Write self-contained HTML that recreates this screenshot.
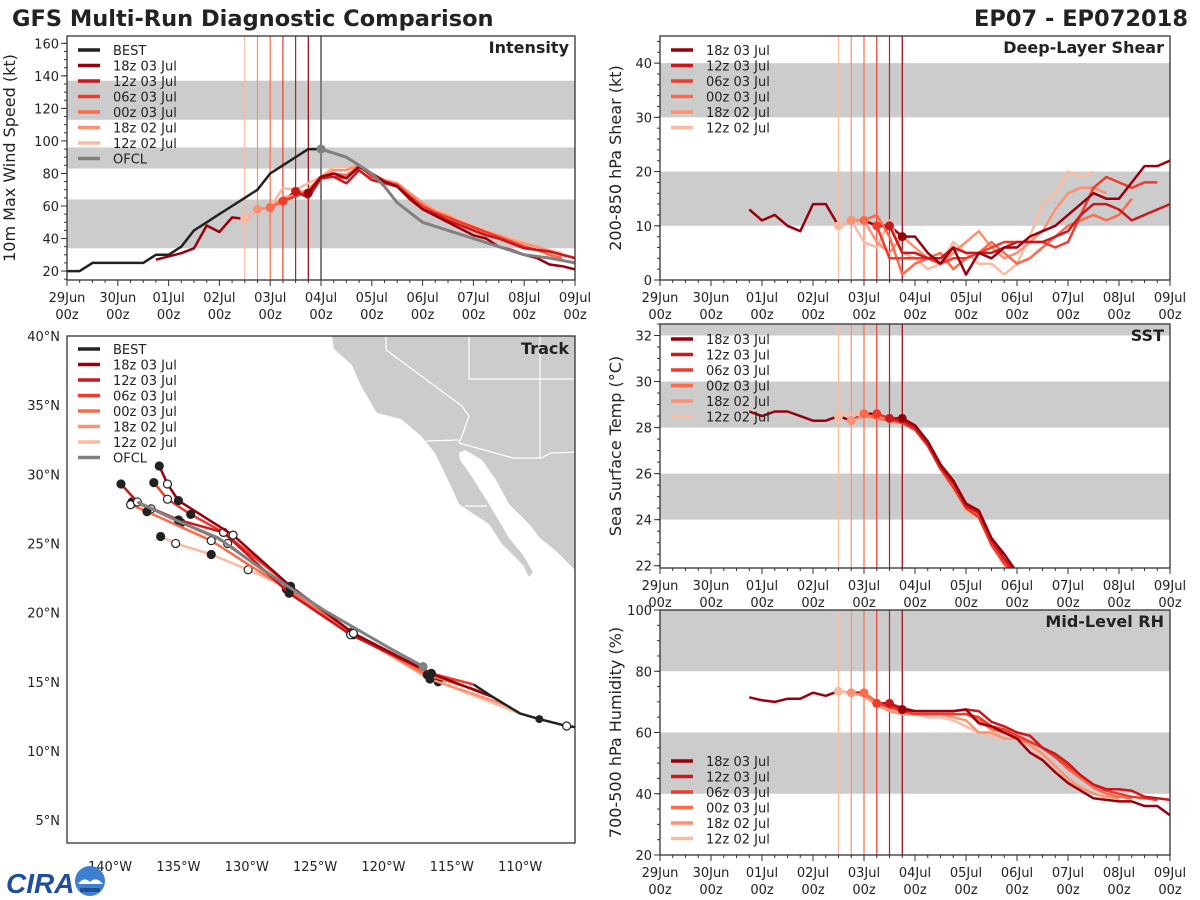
<!DOCTYPE html>
<html><head><meta charset="utf-8"><style>
html,body{margin:0;padding:0;background:#fff;}
svg{display:block;font-family:"DejaVu Sans","Liberation Sans",sans-serif;}
</style></head><body>
<svg id="fig" width="1200" height="900" viewBox="0 0 1200 900" xmlns="http://www.w3.org/2000/svg">
<rect x="0" y="0" width="1200" height="900" fill="#fff"/>
<text x="12" y="26" font-size="22.5" font-weight="bold" fill="#222">GFS Multi-Run Diagnostic Comparison</text>
<text x="1188" y="26" font-size="22.5" font-weight="bold" fill="#222" text-anchor="end">EP07 - EP072018</text>
<g id="panels"></g>
<g>
<text x="6" y="893" font-size="28" font-weight="bold" font-style="italic" fill="#1f4e9a" font-family="Liberation Sans, sans-serif">CIRA</text>
<circle cx="90" cy="881" r="15" fill="#3f7fd0"/>
<path d="M78 884 Q84 876 90 882 Q96 876 103 884 Z" fill="#fff"/>
<rect x="80" y="888" width="20" height="4" fill="#1f4e9a"/>
</g>
</svg>
<script>
const days=['29Jun','30Jun','01Jul','02Jul','03Jul','04Jul','05Jul','06Jul','07Jul','08Jul','09Jul'];
const runNames=['18z 03 Jul','12z 03 Jul','06z 03 Jul','00z 03 Jul','18z 02 Jul','12z 02 Jul'];
const runInit=[4.75,4.5,4.25,4.0,3.75,3.5];
const runColors=['#99000d','#cb181d','#ef3b2c','#fb6a4a','#fc9272','#fcbba1'];

// Intensity (kt)
const bestT0=0;
const bestVmax=[20,20,25,25,25,25,25,30,30,35,45,50,55,60,65,70,80,85,90,95,95];
const ofclT0=5.0;
const ofclVmax=[95,90,85,80,72,62,50,45,40,35,30,28,25];
const ofclStep=[0,0.5,0.75,1.0,1.25,1.5,2.0,2.5,3.0,3.5,4.0,4.5,5.0];
const intHistT0=1.75;
const intHist=[27,29,31,34,48,44,53,52,58,59,63,69,68];
const int18z03=[68,78,80,77,84,80,75,72,65,58,54,50,46,42,40,35,33,30,28,24,23,21];
const int12z03=[69,65,77,78,74,82,76,74,72,64,58,55,51,48,45,42,40,37,34,33,32,30,28,27];
const int06z03=[63,66,69,78,78,77,85,78,75,73,66,60,56,53,50,47,44,41,38,35,33,32,30,28,27];
const int00z03=[59,63,66,69,77,80,79,84,79,75,72,66,59,56,52,49,46,43,40,38,35,33,30,28];
const int18z02=[58,59,65,67,70,78,82,82,85,80,76,74,68,62,57,54,50,47,44,42,39,37,35,32,30,28];
const int12z02=[52,58,59,71,70,74,78,84,84,85,78,76,73,67,62,58,55,51,48,45,42,40,38,35,33,31];

// Shear (kt)
const shrHistT0=1.75;
const shrHist=[13,11,12,10,9,14,14,10,11,11,10,10,8];
const shr18z03=[8,8,5,3,6,1,5,4,6,6,8,9,10,12,14,16,15,15,18,21,21,22];
const shr12z03=[10,5,5,4,4,6,5,5,5,6,7,7,7,8,9,12,14,14,13,11,12,13,14,12];
const shr06z03=[10,4,4,4,4,3,4,4,5,6,7,7,7,7,6,7,12,17,19,18,17,18,18];
const shr00z03=[11,12,8,1,3,4,5,2,4,5,7,5,3,4,6,8,10,11,12,11,12,15];
const shr18z02=[11,11,7,5,8,6,4,3,5,7,9,6,4,5,7,9,13,16,17,17,16];
const shr12z02=[10,11,7,6,11,5,4,2,3,7,5,3,3,1,3,8,14,16,20,19,20];

// SST (C)
const sstHistT0=1.75;
const sstHist=[28.7,28.5,28.7,28.7,28.5,28.3,28.3,28.5,28.3,28.6,28.6,28.4,28.4];
const sst18z03=[28.4,28.1,27.4,26.4,25.7,24.7,24.4,23.2,22.5,21.7];
const sst12z03=[28.4,28.3,28.0,27.3,26.3,25.6,24.6,24.3,23.1,22.3,21.6];
const sst06z03=[28.6,28.4,28.2,27.9,27.2,26.2,25.4,24.5,24.1,22.9,22.1,21.5];
const sst00z03=[28.6,28.4,28.3,28.2,28.0,27.3,26.3,25.5,24.5,24.2,23.0,22.1,21.5];
const sst18z02=[28.3,28.5,28.4,28.3,28.2,28.0,27.4,26.3,25.5,24.5,24.2,23.0,22.2,21.5];
const sst12z02=[28.5,28.6,28.5,28.4,28.3,28.2,28.0,27.3,26.2,25.4,24.4,24.1,22.9,22.0,21.5];

// RH (%)
const rhHistT0=1.75;
const rhHist=[71.5,70.5,70,71,71,73,72,73.5,73,73,69.5,69.5,67.5];
const rh18z03=[67.5,67,67,67,67,67.5,63,62,60,58,53.5,51,47,43.5,41,38.5,38,37.5,37.5,36,36,33];
const rh12z03=[69.5,68,67,67,67,67,67.5,67,63.5,62,60,59,55,53,50,46,43,41.5,41.5,41,39,38.5,38];
const rh06z03=[69.5,68.5,67,66,66,66,66,66,65,62,61,59,57,55,52,49,46,43,41,40,39,38.5,38];
const rh00z03=[73,70,68,67,66,66,66,66,66,64,61,60,58,57,55,52,48,45,42,40,39,38.5];
const rh18z02=[73,72,69,67,66,66,66,66,65,64,60,60,58,58,56,53,49,45,42,40,39,38.5];
const rh12z02=[73.5,73,72,69,67,66,66,65,65,64,62,60,59,58,58,56,51,47,44,42,40,39];

// Track (lon, lat)
const bestLon=[-105.8,-106.6,-108.6,-110.0,-112.0,-113.4];
const bestLat=[11.7,11.8,12.3,12.7,13.9,14.8];
const ofclLon=[-117.1,-119.5,-124.4,-127.0,-129.7,-132.1,-135.0,-138.0];
const ofclLat=[16.1,17.4,20.2,21.9,23.7,25.4,26.6,28.0];
const trk18z03Lon=[-112.0,-116.5,-122.2,-126.8,-131.0,-135.0,-135.8,-136.4];
const trk18z03Lat=[13.9,15.6,18.5,21.9,25.6,28.1,29.3,30.6];
const trk12z03Lon=[-112.0,-116.5,-122.4,-126.9,-131.7,-135.0,-138.0,-139.2];
const trk12z03Lat=[13.9,15.6,18.4,21.4,25.8,26.7,28.0,29.3];
const trk06z03Lon=[-113.4,-116.5,-122.2,-126.8,-131.7,-134.1,-135.8,-136.8];
const trk06z03Lat=[14.8,15.6,18.5,21.9,25.8,27.1,28.2,29.4];
const trk00z03Lon=[-112.5,-116.8,-122.4,-126.9,-132.6,-137.3,-138.5];
const trk00z03Lat=[14.2,15.5,18.5,21.6,25.2,27.3,27.8];
const trk18z02Lon=[-111.0,-116.6,-122.3,-127.1,-131.4,-134.8,-137.0,-138.4];
const trk18z02Lat=[13.3,15.2,18.6,21.7,25.0,26.5,27.5,28.0];
const trk12z02Lon=[-110.0,-116.0,-122.2,-127.0,-129.9,-132.6,-135.2,-136.3];
const trk12z02Lat=[12.7,15.0,18.4,21.8,23.1,24.2,25.0,25.5];

const NS='http://www.w3.org/2000/svg';
const root=document.getElementById('panels');
function el(tag,attrs,parent){const e=document.createElementNS(NS,tag);for(const k in attrs)e.setAttribute(k,attrs[k]);(parent||root).appendChild(e);return e;}
function txt(s,attrs,parent){const e=el('text',attrs,parent);e.textContent=s;return e;}

const intRuns=[int18z03,int12z03,int06z03,int00z03,int18z02,int12z02];
const shrRuns=[shr18z03,shr12z03,shr06z03,shr00z03,shr18z02,shr12z02];
const sstRuns=[sst18z03,sst12z03,sst06z03,sst00z03,sst18z02,sst12z02];
const rhRuns=[rh18z03,rh12z03,rh06z03,rh00z03,rh18z02,rh12z02];

let clipId=0;
function panel(cfg){
  const g=el('g',{});
  
  
  const X=t=>cfg.x0+t/10*(cfg.x1-cfg.x0);
  const Y=v=>cfg.y1-(v-cfg.vmin)/(cfg.vmax-cfg.vmin)*(cfg.y1-cfg.y0);
  const cid='clip'+(clipId++);
  const cp=el('clipPath',{id:cid},g);el('rect',{x:cfg.x0,y:cfg.y0,width:cfg.x1-cfg.x0,height:cfg.y1-cfg.y0},cp);
  const inner=el('g',{'clip-path':'url(#'+cid+')'},g);
  cfg.bands.forEach(b=>{const r=el('rect',{x:cfg.x0,y:Y(Math.min(b[1],cfg.vmax)),width:cfg.x1-cfg.x0,height:Y(b[0])-Y(Math.min(b[1],cfg.vmax)),fill:'#cccccc'},inner);
    
    });
  runInit.forEach((t,i)=>{el('line',{x1:X(t),x2:X(t),y1:cfg.y0,y2:cfg.y1,stroke:runColors[i],'stroke-width':1.2},inner);});
  if(cfg.ofcl){el('line',{x1:X(ofclT0),x2:X(ofclT0),y1:cfg.y0,y2:cfg.y1,stroke:'#808080','stroke-width':2},inner);}
  function line(t0,vals,color,w,name,step){
    const pts=vals.map((v,i)=>X(step?t0+step[i]:t0+i*0.25).toFixed(1)+','+Y(v).toFixed(1)).join(' ');
    const p=el('polyline',{points:pts,fill:'none',stroke:color,'stroke-width':w,'stroke-linejoin':'round'},inner);
    
    
  }
  if(cfg.best) line(bestT0,bestVmax,'#222',2.5,'best-line');
  line(cfg.histT0,cfg.hist,runColors[0],2.5,'analysis-line');
  for(let i=5;i>=0;i--){line(runInit[i],cfg.runs[i],runColors[i],2.5,'run-line-'+runNames[i].replace(/ /g,'-').toLowerCase());}
  if(cfg.ofcl){line(ofclT0,ofclVmax,'#808080',3,'ofcl-line',ofclStep);}
  for(let i=5;i>=0;i--){const c=el('circle',{cx:X(runInit[i]),cy:Y(cfg.runs[i][0]),r:4.5,fill:runColors[i]},inner);
    
    }
  if(cfg.ofcl){el('circle',{cx:X(ofclT0),cy:Y(ofclVmax[0]),r:4.5,fill:'#808080'},inner);}
  el('rect',{x:cfg.x0,y:cfg.y0,width:cfg.x1-cfg.x0,height:cfg.y1-cfg.y0,fill:'none',stroke:'#333','stroke-width':1.3},g);
  for(let k=0;k<=40;k++){const t=k/4,x=X(t);const major=k%4===0;
    el('line',{x1:x,x2:x,y1:cfg.y1,y2:cfg.y1+(major?6:3),stroke:'#333','stroke-width':1},g);}
  days.forEach((d,i)=>{const a=txt(d,{x:X(i),y:cfg.y1+22,'font-size':13,'text-anchor':'middle',fill:'#222'},g);
    
    
    txt('00z',{x:X(i),y:cfg.y1+39,'font-size':13,'text-anchor':'middle',fill:'#222'},g);});
  for(let v=cfg.ymin0;v<=cfg.vmax+1e-6;v+=cfg.minor){if(v<cfg.vmin-1e-6)continue;
    el('line',{x1:cfg.x0-3,x2:cfg.x0,y1:Y(v),y2:Y(v),stroke:'#333','stroke-width':1},g);}
  cfg.ticks.forEach(v=>{el('line',{x1:cfg.x0-6,x2:cfg.x0,y1:Y(v),y2:Y(v),stroke:'#333','stroke-width':1},g);
    const a=txt(String(v),{x:cfg.x0-8,y:Y(v)+5,'font-size':13,'text-anchor':'end',fill:'#222'},g);
    
    });
  const yl=txt(cfg.ylabel,{x:0,y:0,'font-size':16,'text-anchor':'middle',fill:'#222',transform:'translate('+cfg.ylx+','+((cfg.y0+cfg.y1)/2)+') rotate(-90)'},g);
  
  
  const tt=txt(cfg.title,{x:cfg.x1-6,y:cfg.y0+17,'font-size':16,'font-weight':'bold','text-anchor':'end',fill:'#222'},g);
  
  
  legend(g,cfg.x0+11,cfg.legY,cfg.best,cfg.ofcl);
}
function legend(g,x,y,best,ofcl){
  const items=[];if(best)items.push(['BEST','#222']);
  runNames.forEach((n,i)=>items.push([n,runColors[i]]));
  if(ofcl)items.push(['OFCL','#808080']);
  items.forEach((it,i)=>{const yy=y+i*15.5;
    const lg=el('g',{},g);
    
    
    el('line',{x1:x,x2:x+22,y1:yy,y2:yy,stroke:it[1],'stroke-width':3.5},lg);
    txt(it[0],{x:x+35,y:yy+5,'font-size':13,fill:'#222'},lg);});
}
panel({name:'intensity',x0:67,x1:575,y0:36,y1:280,vmin:14.5,vmax:164.5,ymin0:15,minor:5,ticks:[20,40,60,80,100,120,140,160],
  bands:[[34,64],[83,96],[113,137]],title:'Intensity',ylabel:'10m Max Wind Speed (kt)',ylx:15,
  histT0:intHistT0,hist:intHist,runs:intRuns,best:true,ofcl:true,legY:50});
panel({name:'shear',x0:660,x1:1170,y0:36,y1:280,vmin:0,vmax:45,ymin0:0,minor:2,ticks:[0,10,20,30,40],
  bands:[[10,20],[30,40]],title:'Deep-Layer Shear',ylabel:'200-850 hPa Shear (kt)',ylx:621,
  histT0:shrHistT0,hist:shrHist,runs:shrRuns,best:false,ofcl:false,legY:50});
panel({name:'sst',x0:660,x1:1170,y0:324,y1:568,vmin:21.9,vmax:32.5,ymin0:22,minor:0.5,ticks:[22,24,26,28,30,32],
  bands:[[24,26],[28,30],[32,40]],title:'SST',ylabel:'Sea Surface Temp (°C)',ylx:621,
  histT0:sstHistT0,hist:sstHist,runs:sstRuns,best:false,ofcl:false,legY:339});
panel({name:'rh',x0:660,x1:1170,y0:610,y1:855,vmin:20,vmax:100,ymin0:20,minor:5,ticks:[20,40,60,80,100],
  bands:[[40,60],[80,100]],title:'Mid-Level RH',ylabel:'700-500 hPa Humidity (%)',ylx:621,
  histT0:rhHistT0,hist:rhHist,runs:rhRuns,best:false,ofcl:false,legY:761});

(function(){
  const x0=67,x1=575,y0=336,y1=843;
  const LX=lon=>x0+(lon+143.15)*13.67;
  const LY=lat=>y0+(40-lat)*13.83;
  const g=el('g',{});
  
  
  const cp=el('clipPath',{id:'trkclip'},g);el('rect',{x:x0,y:y0,width:x1-x0,height:y1-y0},cp);
  const inner=el('g',{'clip-path':'url(#trkclip)'},g);
  const land=el('polygon',{points:'330,330 590,330 590,575 577,572 556,551 540,538 529,524 509,504 496,480 482,460 465,450 459,453 460,460 472,477 489,504 509,538 523,555 533,572 529,577 523,565 502,544 489,524 469,511 459,504 448,480 435,453 421,436 401,419 377,413 361,386 352,365 334,349 332,336',fill:'#cccccc'},inner);
  
  
  ['386,335 386,350 462,406 469,416 462,436 459,443','426,441 459,440','459,443 513,458 541,458 551,453 580,452','540,335 540,458','469,335 469,379 580,379','465,506 487,506'].forEach(p=>{
    el('polyline',{points:p,fill:'none',stroke:'#fff','stroke-width':1.2},inner);});
  function trk(lons,lats,color,w,name,markers){
    const pts=lons.map((l,i)=>LX(l).toFixed(1)+','+LY(lats[i]).toFixed(1)).join(' ');
    const p=el('polyline',{points:pts,fill:'none',stroke:color,'stroke-width':w,'stroke-linejoin':'round'},inner);
    
    
    if(markers){lons.forEach((l,i)=>{if(i===0)return;
      const c=el('circle',{cx:LX(l),cy:LY(lats[i]),r:4,fill:i%2?'#222':'#fff',stroke:'#222','stroke-width':1.2},inner);
      
      });}
  }
  const tl=[[trk12z02Lon,trk12z02Lat],[trk18z02Lon,trk18z02Lat],[trk00z03Lon,trk00z03Lat],[trk06z03Lon,trk06z03Lat],[trk12z03Lon,trk12z03Lat],[trk18z03Lon,trk18z03Lat]];
  tl.forEach((t,j)=>{const i=5-j;trk(t[0],t[1],runColors[i],2.5,'track-'+runNames[i].replace(/ /g,'-').toLowerCase(),true);});
  trk(ofclLon,ofclLat,'#808080',3,'track-ofcl',false);
  trk(bestLon,bestLat,'#222',2.5,'track-best',false);
  el('circle',{cx:LX(bestLon[2]),cy:LY(bestLat[2]),r:4,fill:'#222'},inner);
  el('circle',{cx:LX(bestLon[1]),cy:LY(bestLat[1]),r:4,fill:'#fff',stroke:'#222','stroke-width':1.2},inner);
  el('circle',{cx:LX(ofclLon[0]),cy:LY(ofclLat[0]),r:4.5,fill:'#808080'},inner);
  el('rect',{x:x0,y:y0,width:x1-x0,height:y1-y0,fill:'none',stroke:'#333','stroke-width':1.3},g);
  const lons=[-140,-135,-130,-125,-120,-115,-110];
  lons.forEach(l=>{const a=txt((-l)+'°W',{x:LX(l),y:871,'font-size':13,'text-anchor':'middle',fill:'#222'},g);
    
    });
  const lats=[40,35,30,25,20,15,10,5];
  lats.forEach(l=>{const a=txt(l+'°N',{x:60,y:LY(l)+5,'font-size':13,'text-anchor':'end',fill:'#222'},g);
    
    });
  const tt=txt('Track',{x:x1-6,y:y0+18,'font-size':16,'font-weight':'bold','text-anchor':'end',fill:'#222'},g);
  
  
  legend(g,78,349,true,true);
})();
</script>
</body></html>
